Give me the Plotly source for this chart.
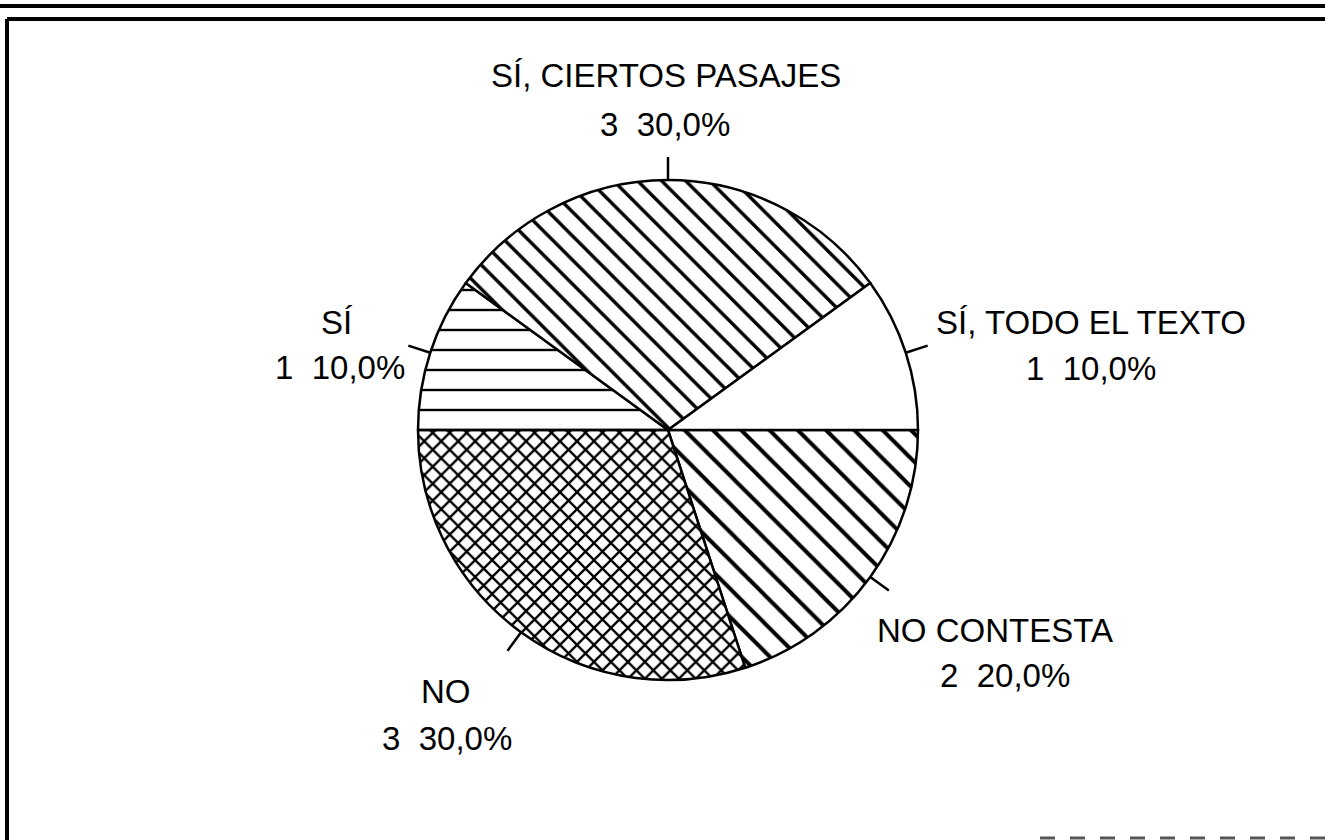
import math
import plotly.graph_objects as go

# Datos del gráfico (orden horario desde las 3 en punto)
categorias = ["NO CONTESTA", "NO", "SÍ", "SÍ, CIERTOS PASAJES", "SÍ, TODO EL TEXTO"]
valores = [2, 3, 1, 3, 1]
tramas = ["\\", "x", "-", "\\", ""]
tamanos_trama = [20, 12, 20, 17, 10]
solidez_trama = [0.2, 0.35, 0.12, 0.2, 0.2]

W, H = 1325, 840
# centro y radio de la tarta en pixeles
cx, cy, r = 668, 430, 250


def px(x):
    return x / W


def py(y):
    return 1 - y / H


total = sum(valores)
textos = [f"{v}  {v / total * 100:.1f}%".replace(".", ",") for v in valores]

fig = go.Figure(go.Pie(
    labels=categorias,
    values=valores,
    sort=False,
    direction="clockwise",
    rotation=90,
    textinfo="none",
    hoverinfo="label+value+percent",
    showlegend=False,
    marker=dict(
        colors=["white"] * len(valores),
        line=dict(color="black", width=2.5),
        pattern=dict(shape=tramas, fgcolor="black", bgcolor="white",
                     size=tamanos_trama, solidity=solidez_trama),
    ),
    domain=dict(x=[px(cx - r), px(cx + r)], y=[py(cy + r), py(cy - r)]),
))

# posiciones de las etiquetas (centro de la primera linea y de la segunda)
pos_etiquetas = {
    "NO CONTESTA": ((995, 630), (1005, 675)),
    "NO": ((446, 691), (447, 738)),
    "SÍ": ((337, 322), (340, 367)),
    "SÍ, CIERTOS PASAJES": ((666, 75), (665, 124)),
    "SÍ, TODO EL TEXTO": ((1091, 322), (1091, 368)),
}

fuente = dict(family="Liberation Sans, Arial, sans-serif", size=33, color="black")
shapes = []
annotations = []

# marcas cortas en el punto medio de cada sector
angulo = 0.0
for cat, v, txt in zip(categorias, valores, textos):
    span = 360.0 * v / total
    medio = math.radians(angulo - span / 2)
    angulo -= span
    x0, y0 = cx + r * math.cos(medio), cy - r * math.sin(medio)
    x1, y1 = cx + (r + 23) * math.cos(medio), cy - (r + 23) * math.sin(medio)
    shapes.append(dict(type="line", xref="paper", yref="paper",
                       x0=px(x0), y0=py(y0), x1=px(x1), y1=py(y1),
                       line=dict(color="black", width=2.5)))
    (l1x, l1y), (l2x, l2y) = pos_etiquetas[cat]
    annotations.append(dict(text=cat, x=px(l1x), y=py(l1y), xref="paper", yref="paper",
                            showarrow=False, xanchor="center", yanchor="middle", font=fuente))
    annotations.append(dict(text=txt, x=px(l2x), y=py(l2y), xref="paper", yref="paper",
                            showarrow=False, xanchor="center", yanchor="middle", font=fuente))

# marco del documento escaneado
shapes.append(dict(type="line", xref="paper", yref="paper", x0=0, x1=1, y0=py(6), y1=py(6),
                   line=dict(color="black", width=4)))
shapes.append(dict(type="line", xref="paper", yref="paper", x0=px(7), x1=1, y0=py(19), y1=py(19),
                   line=dict(color="black", width=4)))
shapes.append(dict(type="line", xref="paper", yref="paper", x0=px(7), x1=px(7), y0=py(19), y1=0,
                   line=dict(color="black", width=4)))
shapes.append(dict(type="line", xref="paper", yref="paper", x0=px(1040), x1=1, y0=py(838), y1=py(838),
                   line=dict(color="#555555", width=3, dash="longdash")))

fig.update_layout(
    width=W, height=H,
    margin=dict(l=0, r=0, t=0, b=0),
    paper_bgcolor="white",
    plot_bgcolor="white",
    shapes=shapes,
    annotations=annotations,
)

# sin margen del body para que la figura empiece en (0, 0)
fig.write_html("out.html", config={"displayModeBar": False},
               post_script="document.body.style.margin='0';")
